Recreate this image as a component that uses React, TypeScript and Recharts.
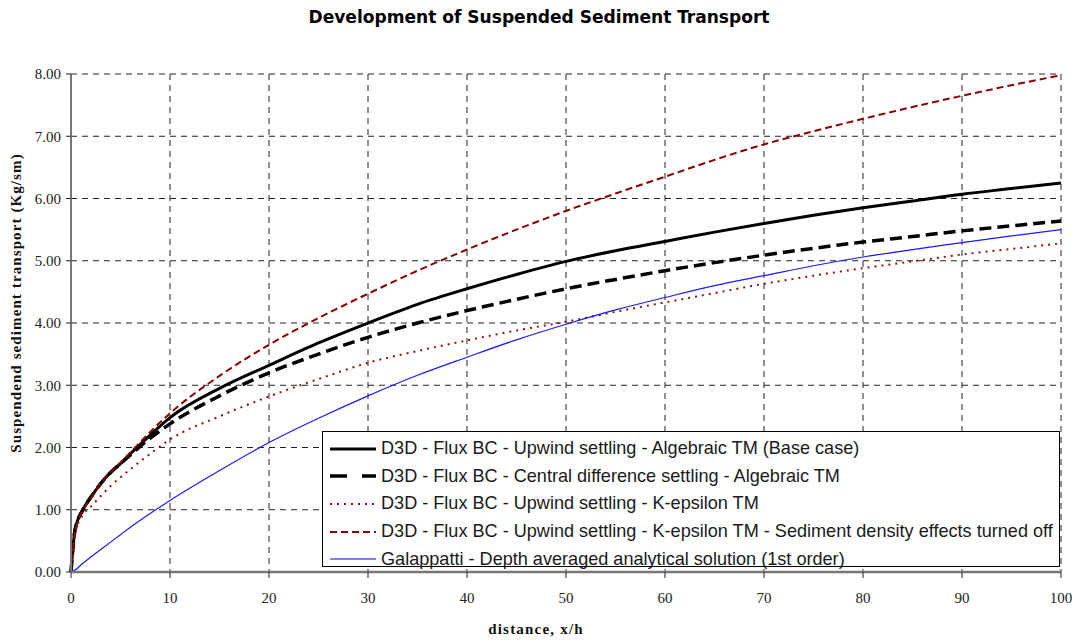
import { CartesianGrid, Label, Line, LineChart, XAxis, YAxis } from 'recharts';

const distance = [0, 0.4, 1.2, 2, 3, 4, 5, 6, 8, 10, 15, 20, 25, 30, 35, 40, 45, 50, 55, 60, 65, 70, 75, 80, 85, 90, 95, 100];

const baseCase = [0, 0.67, 1.0, 1.2, 1.42, 1.6, 1.74, 1.9, 2.2, 2.48, 2.95, 3.32, 3.68, 4.0, 4.3, 4.55, 4.78, 4.99, 5.16, 5.31, 5.46, 5.6, 5.73, 5.85, 5.96, 6.07, 6.16, 6.25];
const centralDiff = [0, 0.67, 1.0, 1.2, 1.42, 1.6, 1.74, 1.88, 2.15, 2.38, 2.83, 3.2, 3.5, 3.77, 4.0, 4.2, 4.38, 4.55, 4.7, 4.84, 4.97, 5.09, 5.2, 5.3, 5.39, 5.48, 5.56, 5.64];
const kEpsilon = [0, 0.6, 0.92, 1.05, 1.22, 1.38, 1.52, 1.65, 1.9, 2.13, 2.5, 2.82, 3.1, 3.36, 3.55, 3.72, 3.88, 4.02, 4.18, 4.33, 4.48, 4.63, 4.76, 4.88, 4.99, 5.1, 5.19, 5.28];
const densityOff = [0, 0.62, 0.98, 1.18, 1.42, 1.6, 1.76, 1.92, 2.25, 2.55, 3.15, 3.65, 4.08, 4.47, 4.84, 5.18, 5.5, 5.8, 6.08, 6.35, 6.62, 6.87, 7.08, 7.28, 7.47, 7.65, 7.82, 7.98];
const galappatti = [0, 0.03, 0.14, 0.24, 0.36, 0.48, 0.6, 0.72, 0.94, 1.15, 1.63, 2.08, 2.47, 2.83, 3.16, 3.45, 3.73, 3.98, 4.21, 4.41, 4.6, 4.76, 4.92, 5.06, 5.18, 5.29, 5.4, 5.5];

const xTicks = [0, 10, 20, 30, 40, 50, 60, 70, 80, 90, 100];
const yTicks = [0, 1, 2, 3, 4, 5, 6, 7, 8];

const SERIES = [
  { key: 'base', name: 'D3D - Flux BC - Upwind settling - Algebraic TM (Base case)', color: '#000000', width: 3, dash: undefined },
  { key: 'central', name: 'D3D - Flux BC - Central difference settling - Algebraic TM', color: '#000000', width: 3.5, dash: '12 6' },
  { key: 'keps', name: 'D3D - Flux BC - Upwind settling - K-epsilon TM', color: '#8b1414', width: 2, dash: '2 5' },
  { key: 'density', name: 'D3D - Flux BC - Upwind settling - K-epsilon TM - Sediment density effects turned off', color: '#8b0000', width: 2, dash: '7 4' },
  { key: 'gal', name: 'Galappatti - Depth averaged analytical solution (1st order)', color: '#1a1aff', width: 1.2, dash: undefined },
];

const rows = distance.map((d, i) => ({
  d,
  base: baseCase[i],
  central: centralDiff[i],
  keps: kEpsilon[i],
  density: densityOff[i],
  gal: galappatti[i],
}));

function LegendBox() {
  return (
    <div
      style={{
        position: 'absolute',
        left: 322,
        top: 431,
        width: 738,
        height: 136,
        border: '1px solid #000',
        background: '#fff',
        boxSizing: 'border-box',
        paddingTop: 3,
      }}
    >
      {SERIES.map((s) => (
        <div key={s.key} style={{ display: 'flex', alignItems: 'center', height: 27.6 }}>
          <svg width={58} height={10} style={{ flex: 'none' }}>
            <line
              x1={7}
              x2={53}
              y1={5}
              y2={5}
              stroke={s.key === 'gal' ? '#7f7fff' : s.color}
              strokeWidth={s.key === 'gal' ? 2 : s.width}
              strokeDasharray={s.key === 'central' ? '17 15' : s.dash}
            />
          </svg>
          <span style={{ fontFamily: 'Liberation Sans, Arial, sans-serif', fontSize: 18.1, color: '#1a1a1a', whiteSpace: 'nowrap' }}>
            {s.name}
          </span>
        </div>
      ))}
    </div>
  );
}

function YTitle(props: any) {
  const { viewBox } = props;
  const cx = 16;
  const cy = viewBox.y + viewBox.height / 2 - 20;
  return (
    <text
      x={cx}
      y={cy}
      transform={`rotate(-90 ${cx} ${cy})`}
      textAnchor="middle"
      dominantBaseline="central"
      fontFamily="Liberation Serif, Times New Roman, serif"
      fontWeight={700}
      fontSize={15}
      letterSpacing={1.1}
      fill="#111"
    >
      Suspendend sediment transport (Kg/sm)
    </text>
  );
}

function XTitle(props: any) {
  const { viewBox } = props;
  return (
    <text
      x={viewBox.x + viewBox.width / 2 - 30}
      y={629}
      textAnchor="middle"
      dominantBaseline="central"
      fontFamily="Liberation Serif, Times New Roman, serif"
      fontWeight={700}
      fontSize={15}
      letterSpacing={1.2}
      fill="#111"
    >
      distance, x/h
    </text>
  );
}

export default function App() {
  const tickStyle = { fill: '#222', fontSize: 15, fontFamily: 'Liberation Serif, Times New Roman, serif' };
  return (
    <div style={{ position: 'absolute', left: 0, top: 0, width: 1079, height: 641, background: '#fff' }}>
      <svg width={1079} height={40} style={{ position: 'absolute', left: 0, top: 0 }}>
        <text
          x={539}
          y={17}
          textAnchor="middle"
          dominantBaseline="central"
          fontFamily="DejaVu Sans Condensed, DejaVu Sans, sans-serif"
          fontWeight={700}
          fontSize={17}
          textLength={461}
          lengthAdjust="spacingAndGlyphs"
          fill="#000"
        >
          Development of Suspended Sediment Transport
        </text>
      </svg>
      <LineChart width={1079} height={641} data={rows} margin={{ top: 74, right: 18, bottom: 0, left: 0 }}>
        <CartesianGrid stroke="#222" strokeDasharray="6 5" />
        <XAxis
          dataKey="d"
          type="number"
          domain={[0, 100]}
          ticks={xTicks}
          height={69}
          tick={tickStyle}
          tickSize={6}
          tickMargin={14}
          axisLine={{ stroke: '#777', strokeWidth: 2.5 }}
          tickLine={{ stroke: '#222' }}
        >
          <Label content={<XTitle />} />
        </XAxis>
        <YAxis
          type="number"
          domain={[0, 8]}
          ticks={yTicks}
          width={71}
          tick={tickStyle}
          tickSize={5}
          tickMargin={5}
          tickFormatter={(v: number) => v.toFixed(2)}
          axisLine={{ stroke: '#777', strokeWidth: 2 }}
          tickLine={{ stroke: '#222' }}
        >
          <Label content={<YTitle />} />
        </YAxis>
        {SERIES.map((s) => (
          <Line
            key={s.key}
            dataKey={s.key}
            name={s.name}
            type="monotone"
            stroke={s.color}
            strokeWidth={s.width}
            strokeDasharray={s.dash}
            dot={false}
            activeDot={false}
            isAnimationActive={false}
          />
        ))}
      </LineChart>
      <LegendBox />
    </div>
  );
}
